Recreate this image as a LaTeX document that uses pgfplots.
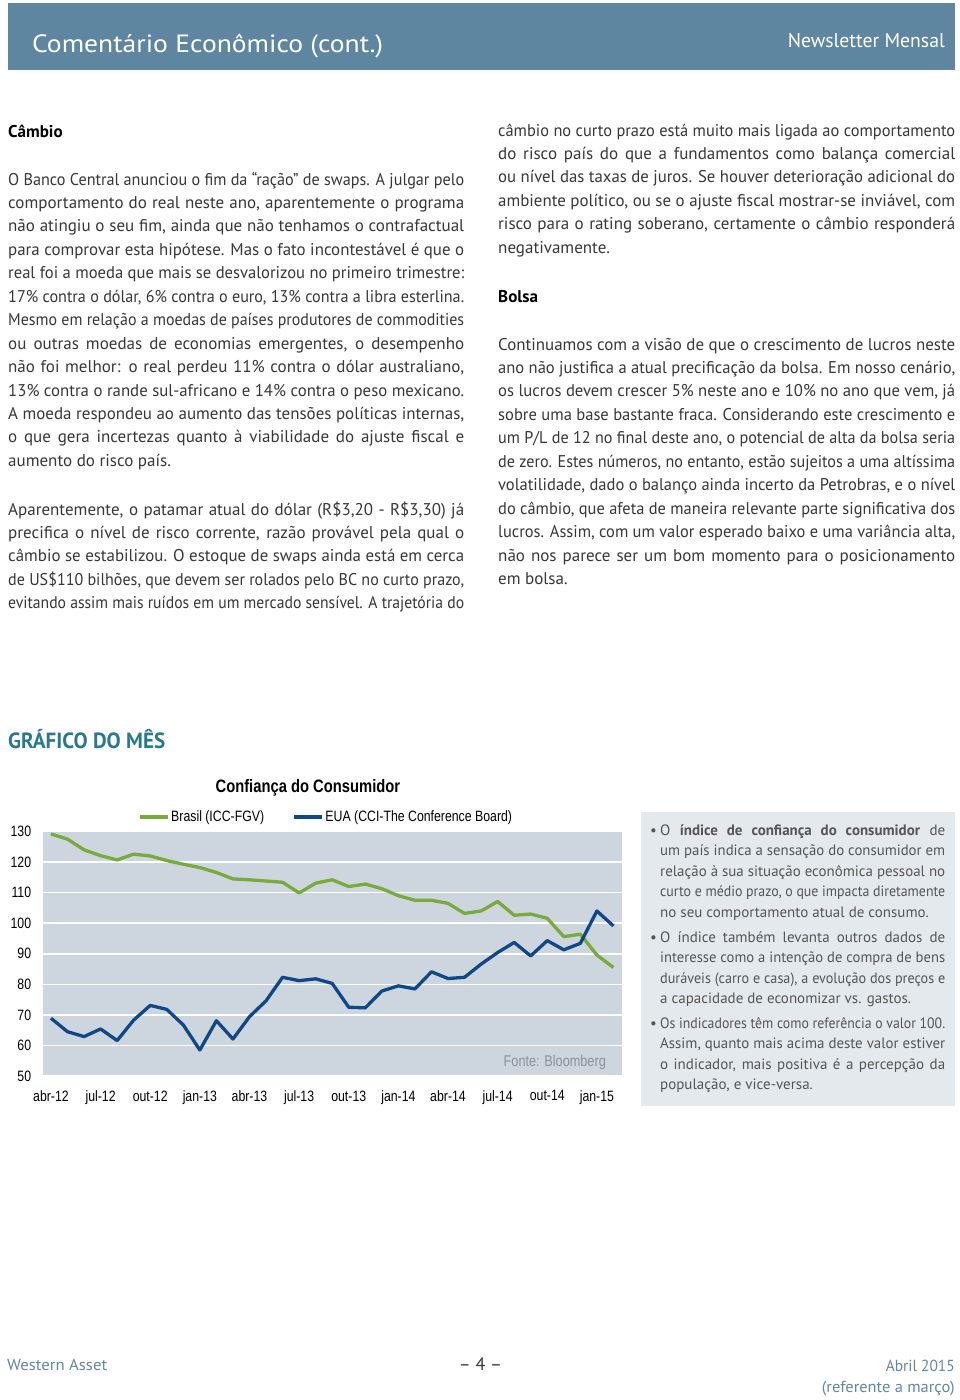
\documentclass[border=0pt]{standalone}
\usepackage{fontspec}
\setmainfont{PT Sans}
\newfontfamily\chartfont[FakeStretch=0.82]{Liberation Sans}
\usepackage{pgfplots}
\usepackage{pgfplotstable}
\pgfplotsset{compat=1.18}
\usepackage{graphicx}

\definecolor{headerblue}{RGB}{94,134,161}
\definecolor{bodygray}{RGB}{55,55,55}
\definecolor{tealhead}{RGB}{43,122,140}
\definecolor{chartbg}{RGB}{205,214,223}
\definecolor{brgreen}{RGB}{122,170,60}
\definecolor{usblue}{RGB}{16,72,135}
\definecolor{boxbg}{RGB}{228,233,237}
\definecolor{boxtext}{RGB}{85,85,85}
\definecolor{footblue}{RGB}{100,135,160}
\definecolor{srcgray}{RGB}{140,145,150}

\newlength\jlw
\newcommand\jline[2]{\settowidth\jlw{#2}\ifdim\jlw>#1\relax\pgfmathsetmacro\jr{#1/\jlw}\scalebox{\jr}[1]{#2}\else\makebox[#1][s]{#2}\fi}
\newcommand\fitw[2]{\settowidth\jlw{#2}\pgfmathsetmacro\jr{#1/\jlw}\scalebox{\jr}[1]{#2}}
\newcommand\bodyfont{\fontsize{17}{20}\selectfont}
\newcommand\boxfont{\fontsize{15}{18}\selectfont}

\pgfplotstableread{
x br us
0 129.2 68.9
1 127.5 64.5
2 124.0 62.9
3 122.1 65.4
4 120.7 61.6
5 122.6 68.3
6 122.0 73.1
7 120.5 71.8
8 119.3 66.7
9 118.2 58.5
10 116.6 68.1
11 114.5 62.1
12 114.2 69.4
13 113.8 74.6
14 113.4 82.3
15 109.9 81.2
16 113.1 81.8
17 114.2 80.3
18 112.0 72.5
19 112.8 72.3
20 111.3 77.8
21 109.0 79.5
22 107.5 78.5
23 107.5 84.1
24 106.5 81.9
25 103.2 82.3
26 104.0 86.6
27 107.1 90.4
28 102.6 93.7
29 103.0 89.3
30 101.6 94.3
31 95.6 91.3
32 96.4 93.4
33 89.6 104.0
34 85.5 99.1
}\conf

\begin{document}
\begin{tikzpicture}
\path[use as bounding box] (0pt,0pt) rectangle (960pt,-1400pt);
\fill[white] (0pt,0pt) rectangle (960pt,-1400pt);
\begin{scope}[x=1pt,y=-1pt,
  body/.style={anchor=base west,inner sep=0pt,font=\bodyfont,text=bodygray},
  head/.style={anchor=base west,inner sep=0pt,font=\bodyfont\bfseries,text=black},
  bx/.style={anchor=base west,inner sep=0pt,font=\boxfont,text=boxtext}]
% header
\fill[headerblue] (8,3) rectangle (955,70);
\node[anchor=base west,inner sep=0pt,text=white,font=\fontsize{25}{28}\selectfont] at (32,52) {\fitw{351pt}{Comentário Econômico (cont.)}};
\node[anchor=base east,inner sep=0pt,text=white,font=\fontsize{20}{24}\selectfont] at (945,47) {\fitw{157pt}{Newsletter Mensal}};
% left column
\node[head] at (8,137) {Câmbio};
\node[body] at (8,185.0) {\jline{456pt}{O Banco Central anunciou o fim da “ração” de swaps. A julgar pelo}};
\node[body] at (8,208.4) {\jline{456pt}{comportamento do real neste ano, aparentemente o programa}};
\node[body] at (8,231.9) {\jline{456pt}{não atingiu o seu fim, ainda que não tenhamos o contrafactual}};
\node[body] at (8,255.3) {\jline{456pt}{para comprovar esta hipótese. Mas o fato incontestável é que o}};
\node[body] at (8,278.8) {\jline{456pt}{real foi a moeda que mais se desvalorizou no primeiro trimestre:}};
\node[body] at (8,302.2) {\jline{456pt}{17\% contra o dólar, 6\% contra o euro, 13\% contra a libra esterlina.}};
\node[body] at (8,325.7) {\jline{456pt}{Mesmo em relação a moedas de países produtores de commodities}};
\node[body] at (8,349.1) {\jline{456pt}{ou outras moedas de economias emergentes, o desempenho}};
\node[body] at (8,372.6) {\jline{456pt}{não foi melhor: o real perdeu 11\% contra o dólar australiano,}};
\node[body] at (8,396.0) {\jline{456pt}{13\% contra o rande sul-africano e 14\% contra o peso mexicano.}};
\node[body] at (8,419.5) {\jline{456pt}{A moeda respondeu ao aumento das tensões políticas internas,}};
\node[body] at (8,442.9) {\jline{456pt}{o que gera incertezas quanto à viabilidade do ajuste fiscal e}};
\node[body] at (8,466.4) {aumento do risco país.};
\node[body] at (8,515.0) {\jline{456pt}{Aparentemente, o patamar atual do dólar (R\$3,20 - R\$3,30) já}};
\node[body] at (8,538.4) {\jline{456pt}{precifica o nível de risco corrente, razão provável pela qual o}};
\node[body] at (8,561.9) {\jline{456pt}{câmbio se estabilizou. O estoque de swaps ainda está em cerca}};
\node[body] at (8,585.3) {\jline{456pt}{de US\$110 bilhões, que devem ser rolados pelo BC no curto prazo,}};
\node[body] at (8,608.8) {\jline{456pt}{evitando assim mais ruídos em um mercado sensível. A trajetória do}};
% right column
\node[body] at (498,136.0) {\jline{457pt}{câmbio no curto prazo está muito mais ligada ao comportamento}};
\node[body] at (498,159.4) {\jline{457pt}{do risco país do que a fundamentos como balança comercial}};
\node[body] at (498,182.8) {\jline{457pt}{ou nível das taxas de juros. Se houver deterioração adicional do}};
\node[body] at (498,206.2) {\jline{457pt}{ambiente político, ou se o ajuste fiscal mostrar-se inviável, com}};
\node[body] at (498,229.6) {\jline{457pt}{risco para o rating soberano, certamente o câmbio responderá}};
\node[body] at (498,253.0) {negativamente.};
\node[head] at (498,302) {Bolsa};
\node[body] at (498,350.0) {\jline{457pt}{Continuamos com a visão de que o crescimento de lucros neste}};
\node[body] at (498,373.4) {\jline{457pt}{ano não justifica a atual precificação da bolsa. Em nosso cenário,}};
\node[body] at (498,396.9) {\jline{457pt}{os lucros devem crescer 5\% neste ano e 10\% no ano que vem, já}};
\node[body] at (498,420.3) {\jline{457pt}{sobre uma base bastante fraca. Considerando este crescimento e}};
\node[body] at (498,443.8) {\jline{457pt}{um P/L de 12 no final deste ano, o potencial de alta da bolsa seria}};
\node[body] at (498,467.2) {\jline{457pt}{de zero. Estes números, no entanto, estão sujeitos a uma altíssima}};
\node[body] at (498,490.7) {\jline{457pt}{volatilidade, dado o balanço ainda incerto da Petrobras, e o nível}};
\node[body] at (498,514.1) {\jline{457pt}{do câmbio, que afeta de maneira relevante parte significativa dos}};
\node[body] at (498,537.6) {\jline{457pt}{lucros. Assim, com um valor esperado baixo e uma variância alta,}};
\node[body] at (498,561.0) {\jline{457pt}{não nos parece ser um bom momento para o posicionamento}};
\node[body] at (498,584.5) {em bolsa.};
% chart heading
\node[anchor=base west,inner sep=0pt,text=tealhead,font=\fontsize{22}{26}\selectfont\bfseries] at (8,748) {\fitw{157pt}{GRÁFICO DO MÊS}};
% box
\fill[boxbg] (641,812) rectangle (955,1106);
\node[bx] at (650,835.0) {•};
\node[bx] at (660,835.0) {\jline{285pt}{O \textbf{índice de confiança do consumidor} de}};
\node[bx] at (660,855.6) {\jline{285pt}{um país indica a sensação do consumidor em}};
\node[bx] at (660,876.2) {\jline{285pt}{relação à sua situação econômica pessoal no}};
\node[bx] at (660,896.8) {\jline{285pt}{curto e médio prazo, o que impacta diretamente}};
\node[bx] at (660,917.4) {no seu comportamento atual de consumo.};
\node[bx] at (650,942.0) {•};
\node[bx] at (660,942.0) {\jline{285pt}{O índice também levanta outros dados de}};
\node[bx] at (660,962.6) {\jline{285pt}{interesse como a intenção de compra de bens}};
\node[bx] at (660,983.2) {\jline{285pt}{duráveis (carro e casa), a evolução dos preços e}};
\node[bx] at (660,1003.8) {a capacidade de economizar vs. gastos.};
\node[bx] at (650,1028.0) {•};
\node[bx] at (660,1028.0) {\jline{285pt}{Os indicadores têm como referência o valor 100.}};
\node[bx] at (660,1048.6) {\jline{285pt}{Assim, quanto mais acima deste valor estiver}};
\node[bx] at (660,1069.2) {\jline{285pt}{o indicador, mais positiva é a percepção da}};
\node[bx] at (660,1089.8) {população, e vice-versa.};
% footer
\node[anchor=base west,inner sep=0pt,text=footblue,font=\fontsize{16}{19}\selectfont] at (7,1370) {\fitw{100pt}{Western Asset}};
\node[anchor=base,inner sep=0pt,text=bodygray,font=\fontsize{18}{21}\selectfont] at (480.5,1370) {– 4 –};
\node[anchor=base east,inner sep=0pt,text=footblue,font=\fontsize{16}{19}\selectfont] at (955,1371) {\fitw{69pt}{Abril 2015}};
\node[anchor=base east,inner sep=0pt,text=footblue,font=\fontsize{16}{19}\selectfont] at (955,1392) {\fitw{133pt}{(referente a março)}};
\end{scope}

\begin{axis}[
  at={(42.7pt,-1076pt)}, anchor=south west,
  scale only axis, width=579pt, height=244.5pt,
  xmin=-0.5, xmax=34.5, ymin=50, ymax=130,
  xtick={0,3,...,33},
  xticklabels={abr-12,jul-12,out-12,jan-13,abr-13,jul-13,out-13,jan-14,abr-14,jul-14,out-14,jan-15},
  ytick={50,60,...,130},
  major tick length=0pt,
  axis line style={draw=none},
  axis background/.style={fill=chartbg},
  ymajorgrids, grid style={white,line width=1.5pt},
  /pgf/number format/assume math mode=true,
  ticklabel style={font=\chartfont\fontsize{15}{17}\selectfont,text=black},
  yticklabel style={xshift=-8pt},
  xticklabel style={yshift=-11pt},
  title={Confiança do Consumidor},
  title style={at={(0.458,1)},anchor=base,yshift=33pt,font=\chartfont\bfseries\fontsize{18}{20}\selectfont},
  legend columns=2,
  legend style={draw=none,fill=none,at={(0.4893,1)},anchor=south,yshift=4pt,
    font=\chartfont\fontsize{15}{17}\selectfont,
    /tikz/every even column/.append style={column sep=26pt}},
  legend image code/.code={\draw[#1] (0pt,0pt) -- (28pt,0pt);},
  clip=false,
]
\addplot[brgreen,line width=3.3pt,line join=round] table[x=x,y=br]{\conf};
\addlegendentry{Brasil (ICC-FGV)}
\addplot[usblue,line width=3.3pt,line join=round] table[x=x,y=us]{\conf};
\addlegendentry{EUA (CCI-The Conference Board)}
\node[anchor=base east,inner sep=0pt,text=srcgray,font=\chartfont\fontsize{15.5}{17}\selectfont] at (rel axis cs:0.973,0.037) {Fonte: Bloomberg};
\end{axis}
\end{tikzpicture}
\end{document}
